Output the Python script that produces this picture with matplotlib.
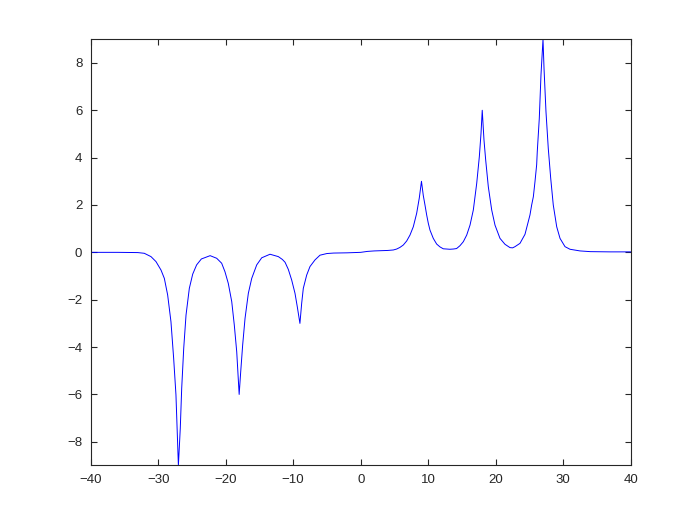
import matplotlib
matplotlib.use("Agg")
import matplotlib.pyplot as plt

# values
x_neg = [-40, -36, -33, -32.05, -31.06, -30.32, -29.57, -29.08, -28.59, -28.1,
         -27.7, -27.36, -27.0, -26.72, -26.51, -26.21, -25.87, -25.38, -24.88,
         -24.3, -23.6, -22.3, -21.33, -20.59, -20.1, -19.61, -19.1, -18.72,
         -18.36, -18.0, -17.77, -17.48, -17.13, -16.64, -16.14, -15.4, -14.66,
         -13.43, -12.2, -11.6, -11.2, -10.72, -10.22, -9.73, -9.39, -9.0,
         -8.74, -8.5, -8.0, -7.51, -6.77, -6.03, -5.0, -4.0, -2.0]
y_neg = [0.0, 0.0, -0.01, -0.04, -0.18, -0.39, -0.75, -1.1, -1.8, -2.93,
         -4.48, -6.02, -9.0, -7.43, -5.74, -4.05, -2.65, -1.52, -0.92,
         -0.53, -0.28, -0.14, -0.25, -0.46, -0.82, -1.31, -2.08, -3.07,
         -4.2, -6.0, -5.04, -3.91, -2.79, -1.73, -1.1, -0.53, -0.23,
         -0.08, -0.18, -0.3, -0.42, -0.72, -1.17, -1.73, -2.3, -3.0,
         -2.15, -1.52, -0.96, -0.6, -0.32, -0.12, -0.05, -0.03, -0.02]

x_pos = [0.0, 1.0, 2.0, 3.0, 4.0, 4.83, 5.33, 5.82, 6.31, 6.81, 7.3, 7.79,
         8.29, 8.68, 9.0, 9.27, 9.52, 9.77, 10.01, 10.26, 10.75, 11.25, 11.74,
         12.23, 12.74, 13.2, 13.71, 14.2, 14.7, 15.2, 15.7, 16.19, 16.68,
         17.18, 17.57, 17.82, 18.0, 18.26, 18.51, 18.9, 19.4, 19.89, 20.63,
         21.37, 22.11, 22.5, 22.85, 23.59, 24.33, 24.82, 25.07, 25.32, 25.57,
         25.81, 26.06, 26.15, 26.45, 26.7, 27.0, 27.15, 27.44, 27.78, 28.14,
         28.52, 29.03, 29.52, 30.26, 31.0, 32.48, 34.0, 37.0, 40.0]
y_pos = [0.0, 0.04, 0.06, 0.07, 0.08, 0.1, 0.14, 0.21, 0.31, 0.48, 0.73, 1.08,
         1.65, 2.3, 3.0, 2.4, 2.0, 1.58, 1.23, 0.94, 0.59, 0.35, 0.23,
         0.15, 0.14, 0.13, 0.14, 0.16, 0.28, 0.45, 0.73, 1.15, 1.79,
         2.91, 4.04, 5.03, 6.0, 4.74, 3.9, 2.77, 1.79, 1.15, 0.59,
         0.34, 0.2, 0.19, 0.24, 0.38, 0.76, 1.3, 1.58, 2.0, 2.35,
         2.98, 3.7, 4.25, 5.66, 7.49, 9.0, 7.77, 5.94, 4.39, 3.13,
         2.0, 1.08, 0.59, 0.24, 0.13, 0.06, 0.03, 0.02, 0.02]

xticks = [-40, -30, -20, -10, 0, 10, 20, 30, 40]
yticks = [-8, -6, -4, -2, 0, 2, 4, 6, 8]

plt.rcParams['font.family'] = ['Liberation Sans', 'DejaVu Sans']
fig = plt.figure(figsize=(6.97, 5.23), dpi=100)
ax = fig.add_axes([0.13, 0.11, 0.775, 0.815])

ax.plot(x_neg + x_pos, y_neg + y_pos, color='#0000ff', lw=0.7)

ax.set_xlim(-40, 40)
ax.set_ylim(-9, 9)
ax.set_xticks(xticks)
ax.set_yticks(yticks)
ax.tick_params(direction='in', top=True, right=True, length=4, width=0.8,
               labelsize=9.5, colors='#262626', pad=6)
for s in ax.spines.values():
    s.set_color('#262626')
    s.set_linewidth(0.8)

fig.savefig('out.png', dpi=100)
